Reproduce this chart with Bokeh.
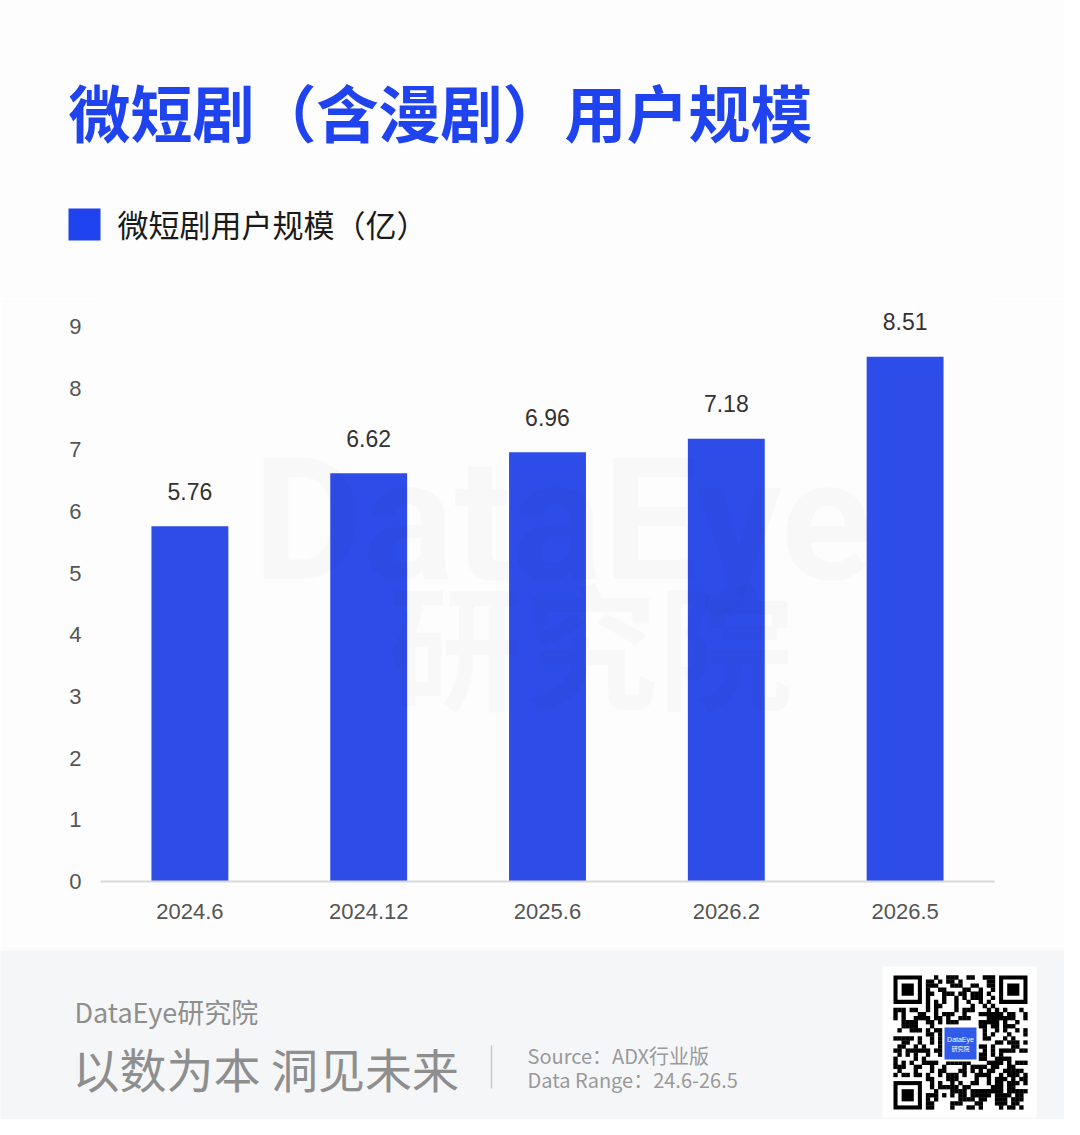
import hashlib
from bokeh.plotting import figure
from bokeh.layouts import column
from bokeh.models import Range1d, FactorRange, ColumnDataSource, Label, FixedTicker
from bokeh.core.properties import value
from bokeh.embed import file_html
from bokeh.resources import INLINE

# ---------------- data ----------------
categories = ["2024.6", "2024.12", "2025.6", "2026.2", "2026.5"]
users = [5.76, 6.62, 6.96, 7.18, 8.51]
value_labels = ["5.76", "6.62", "6.96", "7.18", "8.51"]
y_ticks = [0, 1, 2, 3, 4, 5, 6, 7, 8, 9]

title_text = "微短剧（含漫剧）用户规模"
legend_text = "微短剧用户规模（亿）"
brand_text = "DataEye研究院"
slogan_text = "以数为本 洞见未来"
source_text = "Source：ADX行业版"
range_text = "Data Range：24.6-26.5"

# ---------------- style ----------------
W = 1064
BG = "#fdfdfd"
FOOT_BG = "#f5f6f8"
BLUE = "#2e4de8"
TITLE_BLUE = "#1f44ef"
CJK = value("Noto Sans CJK SC")
LAT = value("Liberation Sans")


def canvas(h, top, bottom, bg):
    f = figure(width=W, height=h, x_range=Range1d(0, W), y_range=Range1d(bottom, top),
               output_backend="svg", toolbar_location=None, min_border=0,
               x_axis_type=None, y_axis_type=None)
    f.frame_align = False
    f.grid.visible = False
    f.outline_line_color = None
    f.background_fill_color = bg
    f.border_fill_color = bg
    return f


# ---------------- header ----------------
head = canvas(298, 0, 298, BG)
head.text(x=[68], y=[110], text=[title_text], text_font=CJK, text_font_style="bold",
          text_font_size="62px", text_color=TITLE_BLUE, text_baseline="middle", text_align="left")
head.quad(left=[68], right=[100], top=[208], bottom=[240], fill_color=TITLE_BLUE, line_color=None)
head.text(x=[117], y=[223], text=[legend_text], text_font=CJK, text_font_size="31px",
          text_color="#1a1a1a", text_baseline="middle", text_align="left")

# ---------------- chart ----------------
frame_top_px, frame_bot_px = 300, 881
unit_px = (881 - 326) / 9.0
ymax = (frame_bot_px - frame_top_px) / unit_px

p = figure(width=W, height=652, x_range=FactorRange(factors=categories, range_padding=0),
           y_range=Range1d(0, ymax), output_backend="svg", toolbar_location=None,
           min_border_left=100, min_border_right=70, min_border_top=2, min_border_bottom=69)
p.frame_align = False
p.background_fill_color = BG
p.border_fill_color = BG
p.outline_line_color = None
p.grid.visible = False

src = ColumnDataSource(dict(cat=categories, val=users, lab=value_labels))
p.vbar(x="cat", top="val", width=0.43, source=src, fill_color=BLUE, line_color=None)
p.text(x="cat", y="val", text="lab", source=src, text_font=LAT, text_font_size="23px",
       text_color="#333333", text_align="center", text_baseline="middle", y_offset=-35)

# watermark
p.add_layout(Label(x=462, y=361, x_units="screen", y_units="screen", text="DataEye",
                   text_font="Roboto", text_font_style="bold", text_font_size="170px",
                   text_color="#000000", text_alpha=0.018, text_align="center",
                   text_baseline="alphabetic"))
p.add_layout(Label(x=490, y=241, x_units="screen", y_units="screen", text="研究院",
                   text_font="Noto Sans CJK SC", text_font_style="bold", text_font_size="135px",
                   text_color="#000000", text_alpha=0.018, text_align="center",
                   text_baseline="middle"))

xa = p.xaxis[0]
xa.axis_line_color = "#d9d9d9"
xa.axis_line_width = 2
xa.major_tick_line_color = None
xa.minor_tick_line_color = None
xa.major_label_text_font = "Liberation Sans"
xa.major_label_text_font_size = "22px"
xa.major_label_text_color = "#555555"
xa.major_label_standoff = 16

ya = p.yaxis[0]
ya.ticker = FixedTicker(ticks=y_ticks)
ya.axis_line_color = None
ya.major_tick_line_color = None
ya.minor_tick_line_color = None
ya.major_label_text_font = "Liberation Sans"
ya.major_label_text_font_size = "22px"
ya.major_label_text_color = "#555555"
ya.major_label_standoff = 13

# ---------------- footer ----------------
foot = canvas(169, 950, 1119, FOOT_BG)
foot.text(x=[74], y=[1011], text=[brand_text], text_font=CJK, text_font_size="27px",
          text_color="#8e8e8e", text_baseline="middle", text_align="left")
foot.text(x=[72], y=[1067], text=[slogan_text], text_font=CJK, text_font_size="47px",
          text_color="#8e8e8e", text_baseline="middle", text_align="left")
foot.segment(x0=[491], y0=[1045], x1=[491], y1=[1088], line_color="#c8c8c8", line_width=1.5)
foot.text(x=[527], y=[1055], text=[source_text], text_font=CJK, text_font_size="20px",
          text_color="#9a9a9a", text_baseline="middle", text_align="left")
foot.text(x=[527], y=[1079], text=[range_text], text_font=CJK, text_font_size="20px",
          text_color="#9a9a9a", text_baseline="middle", text_align="left")

# QR code card (decorative pattern, deterministic)
foot.quad(left=[882], right=[1036], top=[966], bottom=[1117], fill_color="white", line_color=None)
N = 33
qx0, qy0, qsize = 893, 975, 134
m = qsize / N
bits = ""
seed = b"DataEye"
while len(bits) < N * N:
    seed = hashlib.sha256(seed).digest()
    bits += "".join(f"{b:08b}" for b in seed)
mx, my = [], []
for r in range(N):
    for c in range(N):
        in_finder = (r < 8 and c < 8) or (r < 8 and c >= N - 8) or (r >= N - 8 and c < 8)
        in_logo = 12 <= r <= 20 and 12 <= c <= 20
        if in_finder or in_logo:
            continue
        if bits[r * N + c] == "1":
            mx.append(qx0 + (c + 0.5) * m)
            my.append(qy0 + (r + 0.5) * m)
foot.rect(x=mx, y=my, width=m + 0.3, height=m + 0.3, fill_color="black", line_color=None)
fs = 7 * m
for (l, t) in [(qx0, qy0), (qx0 + qsize - fs, qy0), (qx0, qy0 + qsize - fs)]:
    foot.quad(left=[l], right=[l + fs], top=[t], bottom=[t + fs], fill_color="black", line_color=None)
    foot.quad(left=[l + m], right=[l + fs - m], top=[t + m], bottom=[t + fs - m],
              fill_color="white", line_color=None)
    foot.quad(left=[l + 2 * m], right=[l + fs - 2 * m], top=[t + 2 * m], bottom=[t + fs - 2 * m],
              fill_color="black", line_color=None)
foot.quad(left=[942], right=[978], top=[1025], bottom=[1061], fill_color="white", line_color=None)
foot.quad(left=[944], right=[976], top=[1027], bottom=[1059], fill_color="#2f5be8", line_color=None)
foot.text(x=[960], y=[1039], text=["DataEye"], text_font=LAT, text_font_size="7px",
          text_color="white", text_align="center", text_baseline="middle")
foot.text(x=[960], y=[1048], text=["研究院"], text_font=CJK, text_font_size="6px",
          text_color="white", text_align="center", text_baseline="middle")

layout = column(head, p, foot, spacing=0)
open("out.html", "w").write(file_html(layout, INLINE))
